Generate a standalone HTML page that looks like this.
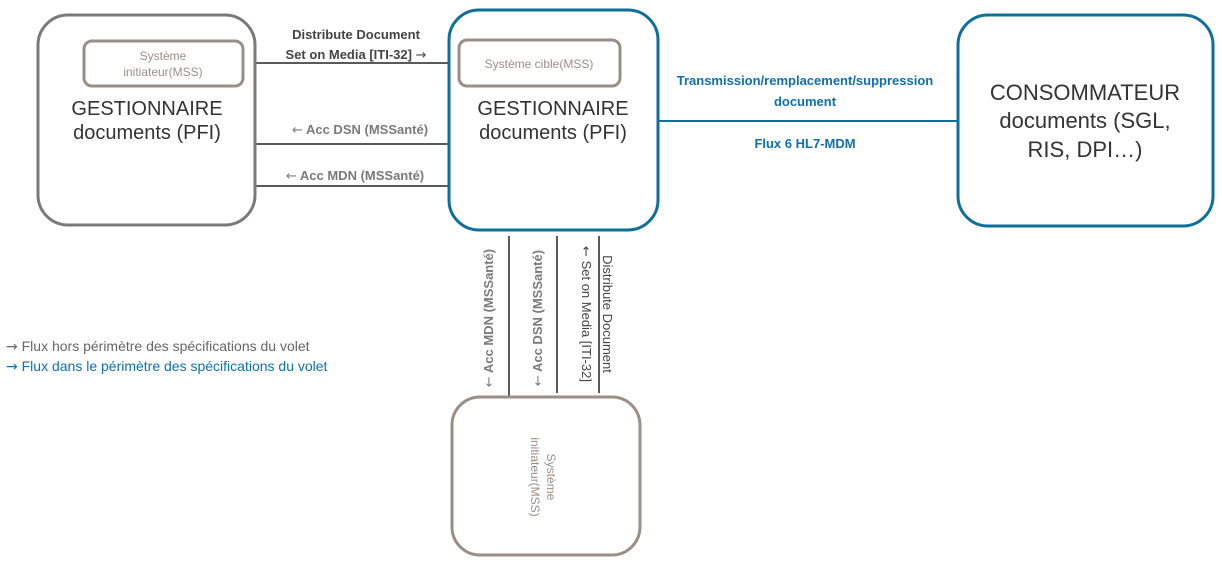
<!DOCTYPE html>
<html><head><meta charset="utf-8"><style>
html,body{margin:0;padding:0;background:#fff;width:1222px;height:569px;overflow:hidden}
svg text{font-family:"Liberation Sans",sans-serif}
.a{font-family:"DejaVu Sans",sans-serif;font-weight:normal}
</style></head><body>
<svg width="1222" height="569" xmlns="http://www.w3.org/2000/svg">
<g stroke="#5a5a5a" stroke-width="2">
<line x1="255" y1="63" x2="459" y2="63"/>
<line x1="255" y1="144" x2="449" y2="144"/>
<line x1="255" y1="186" x2="449" y2="186"/>
<line x1="509" y1="236" x2="509" y2="397"/>
<line x1="557" y1="236" x2="557" y2="393"/>
<line x1="599" y1="236" x2="599" y2="393"/>
</g>
<line x1="658" y1="121" x2="958" y2="121" stroke="#0e6f9b" stroke-width="2"/>
<rect x="38" y="15" width="217" height="210" rx="30" fill="#fff" stroke="#7a7a7a" stroke-width="3"/>
<rect x="84" y="41" width="159" height="45" rx="8" fill="#fff" stroke="#9a8f86" stroke-width="3"/>
<rect x="449" y="10" width="209" height="220" rx="30" fill="#fff" stroke="#0e6f9b" stroke-width="3"/>
<rect x="459" y="40" width="161" height="46" rx="8" fill="#fff" stroke="#9a8f86" stroke-width="3"/>
<rect x="958" y="15" width="255" height="211" rx="30" fill="#fff" stroke="#0e6f9b" stroke-width="3"/>
<rect x="452" y="397" width="188" height="158" rx="28" fill="#fff" stroke="#9a8f86" stroke-width="3"/>
<g fill="#9a8f86" font-size="12" text-anchor="middle">
<text x="163" y="60">Système</text>
<text x="163" y="76">initiateur(MSS)</text>
<text x="539" y="68">Système cible(MSS)</text>
<text transform="translate(547,477) rotate(90)">Système</text>
<text transform="translate(531,477) rotate(90)">initiateur(MSS)</text>
</g>
<g fill="#333" font-size="20" text-anchor="middle">
<text x="147" y="115">GESTIONNAIRE</text>
<text x="147" y="139">documents (PFI)</text>
<text x="553" y="115">GESTIONNAIRE</text>
<text x="553" y="139">documents (PFI)</text>
<text x="1085" y="100" font-size="22">CONSOMMATEUR</text>
<text x="1085" y="128" font-size="22">documents (SGL,</text>
<text x="1085" y="157" font-size="22">RIS, DPI…)</text>
</g>
<g font-size="13" font-weight="bold" text-anchor="middle">
<text x="356" y="39" fill="#444">Distribute Document</text>
<text x="356" y="59" fill="#444">Set on Media [ITI-32] <tspan class="a">→</tspan></text>
<text x="360" y="134" fill="#7a7a7a"><tspan class="a">←</tspan> Acc DSN (MSSanté)</text>
<text x="355" y="180" fill="#7a7a7a"><tspan class="a">←</tspan> Acc MDN (MSSanté)</text>
<text transform="translate(493,318) rotate(-90)" fill="#7a7a7a"><tspan class="a">←</tspan> Acc MDN (MSSanté)</text>
<text transform="translate(542,318) rotate(-90)" fill="#7a7a7a"><tspan class="a">←</tspan> Acc DSN (MSSanté)</text>
<text x="805" y="85" fill="#0e6fb0">Transmission/remplacement/suppression</text>
<text x="805" y="106" fill="#0e6fb0">document</text>
<text x="805" y="148" fill="#0e6fb0">Flux 6 HL7-MDM</text>
</g>
<g font-size="13" text-anchor="middle" fill="#444">
<text transform="translate(582,314) rotate(90)"><tspan class="a">←</tspan> Set on Media [ITI-32]</text>
<text transform="translate(603,314) rotate(90)">Distribute Document</text>
</g>
<text x="6" y="351" font-size="14" fill="#666"><tspan class="a">→</tspan> Flux hors périmètre des spécifications du volet</text>
<text x="6" y="371" font-size="14" fill="#0e6fb0"><tspan class="a">→</tspan> Flux dans le périmètre des spécifications du volet</text>
</svg>
</body></html>
